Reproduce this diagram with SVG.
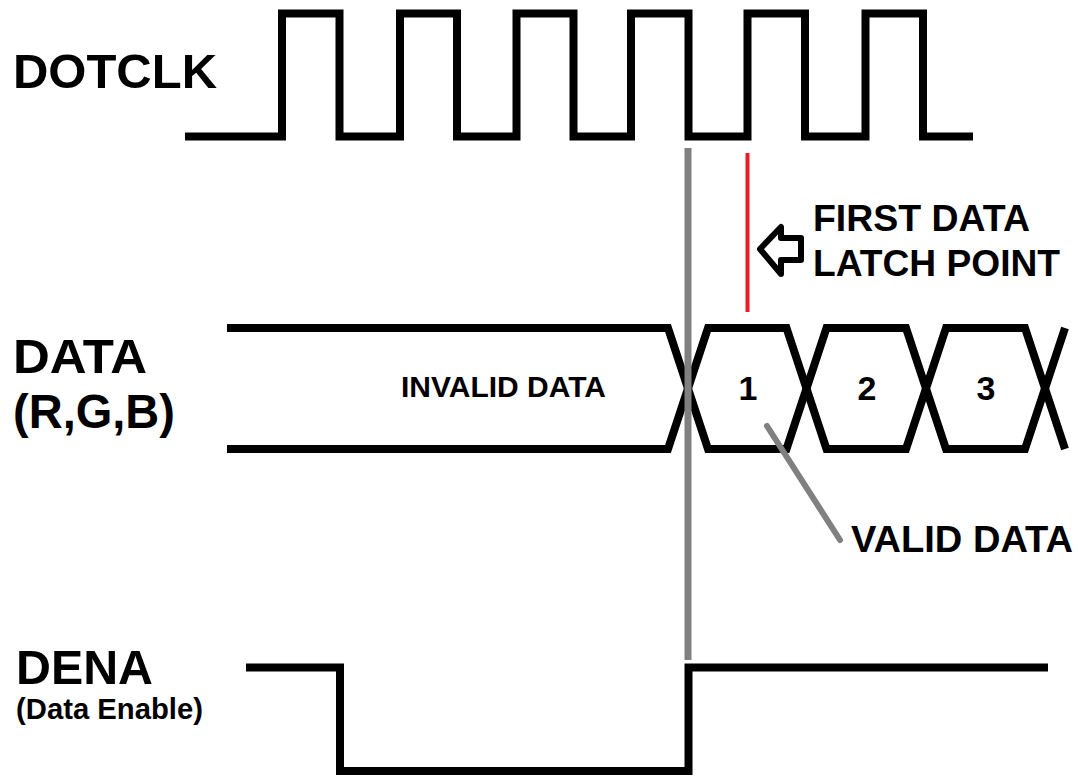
<svg xmlns="http://www.w3.org/2000/svg" width="1078" height="776" viewBox="0 0 1078 776">
  <style>
    .wave { fill: none; stroke: #000; stroke-width: 8; stroke-linejoin: miter; stroke-linecap: butt; }
    .lbl { font-family: "Liberation Sans", Arial, sans-serif; font-weight: bold; fill: #000; }
    .big { font-size: 48px; }
    .mid { font-size: 36px; }
    .sml { font-size: 29px; }
    .num { font-size: 34px; text-anchor: middle; }
  </style>
  <rect width="1078" height="776" fill="#fff"/>

  <g id="dotclk">
    <text class="lbl big" x="13" y="88" textLength="204" lengthAdjust="spacingAndGlyphs">DOTCLK</text>
    <path class="wave" d="M185,136.5 H282 V13.5 H339.5 V136.5 H400 V13.5 H457 V136.5 H516.5 V13.5 H573.5 V136.5 H631 V13.5 H688.5 V136.5 H747.5 V13.5 H805 V136.5 H865.5 V13.5 H923 V136.5 H973"/>
  </g>

  <g id="data">
    <text class="lbl big" x="13" y="373" textLength="134" lengthAdjust="spacingAndGlyphs">DATA</text>
    <text class="lbl big" x="13" y="428" textLength="162" lengthAdjust="spacingAndGlyphs">(R,G,B)</text>
    <path class="wave" d="M227,328 H668 L708,449 H786.5 L826.5,328 H906 L946,449 H1025 L1065,328"/>
    <path class="wave" d="M227,449 H668 L708,328 H786.5 L826.5,449 H906 L946,328 H1025 L1065,449"/>
    <text class="lbl sml" x="401" y="397" textLength="205" lengthAdjust="spacingAndGlyphs">INVALID DATA</text>
    <text class="lbl num" x="748" y="400">1</text>
    <text class="lbl num" x="867" y="400">2</text>
    <text class="lbl num" x="986" y="400">3</text>
  </g>

  <g id="dena">
    <text class="lbl big" x="16" y="684" textLength="137" lengthAdjust="spacingAndGlyphs">DENA</text>
    <text class="lbl sml" x="16" y="719" textLength="187" lengthAdjust="spacingAndGlyphs">(Data Enable)</text>
    <path class="wave" d="M246,667.5 H340 V771 H688.5 V667.5 H1048"/>
  </g>

  <g id="latch-label">
    <polygon points="760,249 781,227 781,238 801,238 801,260 781,260 781,274" fill="none" stroke="#000" stroke-width="6" stroke-linejoin="round"/>
    <text class="lbl mid" x="813" y="231" textLength="217" lengthAdjust="spacingAndGlyphs">FIRST DATA</text>
    <text class="lbl mid" x="813" y="276" textLength="247" lengthAdjust="spacingAndGlyphs">LATCH POINT</text>
  </g>

  <g id="valid-label">
    <text class="lbl mid" x="851" y="552" textLength="222" lengthAdjust="spacingAndGlyphs">VALID DATA</text>
  </g>

  <g id="connectors">
    <line x1="688" y1="148" x2="688" y2="660" stroke="#808080" stroke-width="7"/>
    <line x1="747.5" y1="153" x2="747.5" y2="312" stroke="#ed1c24" stroke-width="4"/>
    <line x1="767" y1="426" x2="840" y2="540" stroke="#808080" stroke-width="6" stroke-linecap="round"/>
  </g>
</svg>
